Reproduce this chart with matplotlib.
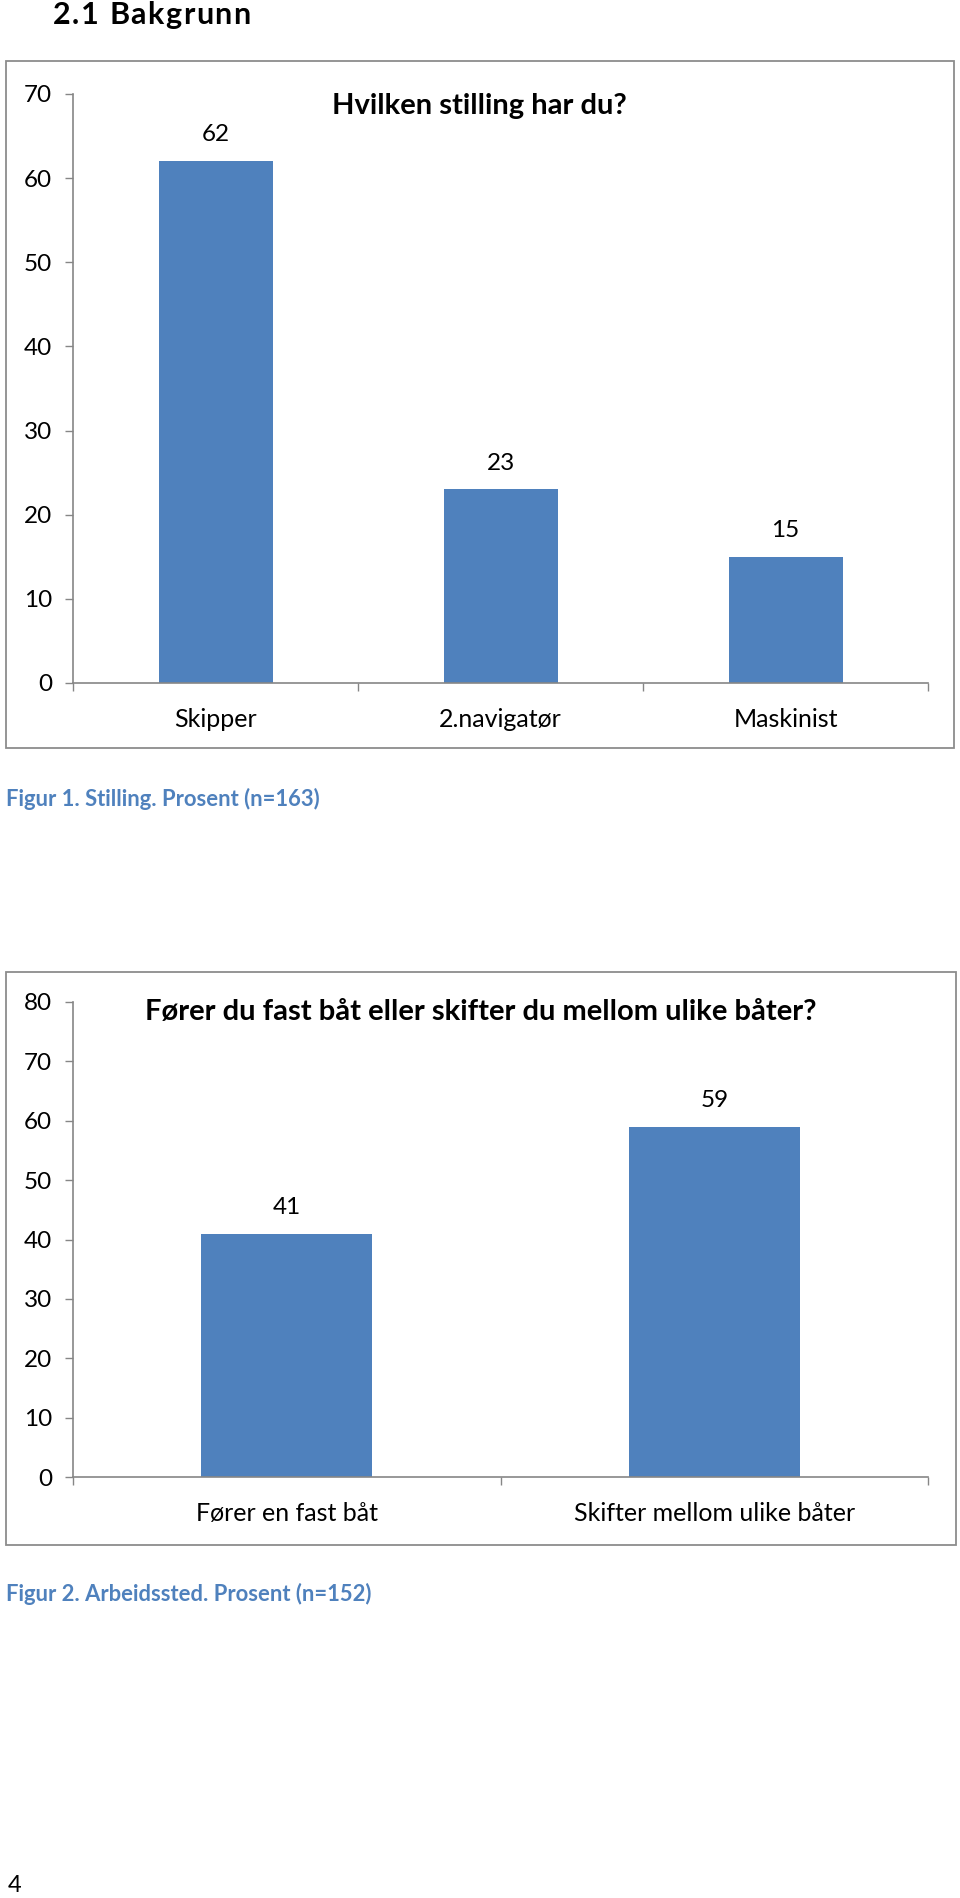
import matplotlib.pyplot as plt
from matplotlib.patches import Rectangle

plt.rcParams['font.family'] = ['Lato', 'DejaVu Sans']

# Figur 1 data
stilling_cats = ['Skipper', '2.navigatør', 'Maskinist']
stilling_vals = [62, 23, 15]
stilling_ticks = [0, 10, 20, 30, 40, 50, 60, 70]

# Figur 2 data
baat_cats = ['Fører en fast båt', 'Skifter mellom ulike båter']
baat_vals = [41, 59]
baat_ticks = [0, 10, 20, 30, 40, 50, 60, 70, 80]

W, H = 960, 1898
BAR = '#4f81bd'
AXC = '#868686'
CAP = '#4f81bd'

fig = plt.figure(figsize=(W / 100, H / 100), dpi=100)
renderer = fig.canvas.get_renderer()


def px_axes(left, top, right, bottom):
    return fig.add_axes([left / W, 1 - bottom / H, (right - left) / W, (bottom - top) / H])


def border(left, top, right, bottom):
    r = Rectangle((left / W, 1 - bottom / H), (right - left) / W, (bottom - top) / H,
                  transform=fig.transFigure, fill=False, ec='#8c8c8c', lw=1.3)
    fig.patches.append(r)


def bar_chart(ax, cats, vals, ticks, labpad):
    n = len(cats)
    x = list(range(n))
    ax.bar(x, vals, width=0.4, color=BAR, zorder=2)
    for xi, v in zip(x, vals):
        ax.annotate(str(v), (xi, v), xytext=(0, 19), textcoords='offset points',
                    ha='center', va='center', fontsize=17.5)
    ax.set_xlim(-0.5, n - 0.5)
    ax.set_ylim(0, ticks[-1])
    ax.set_yticks(ticks)
    ax.set_xticks([i - 0.5 for i in range(n + 1)])
    ax.set_xticklabels([])
    ax.set_xticks(x, minor=True)
    ax.set_xticklabels(cats, minor=True)
    ax.tick_params(axis='x', which='minor', length=0, pad=labpad, labelsize=18)
    ax.tick_params(axis='x', which='major', length=6, color=AXC, width=1)
    ax.tick_params(axis='y', length=6, color=AXC, width=1, pad=9, labelsize=17.5)
    for s in ['top', 'right']:
        ax.spines[s].set_visible(False)
    for s in ['left', 'bottom']:
        ax.spines[s].set_color(AXC)
        ax.spines[s].set_linewidth(1.2)


def spaced_text(x0, ybase, s, spacing, **kw):
    # letter spaced heading, one glyph at a time on a shared baseline
    for i, ch in enumerate(s):
        if ch == ' ':
            continue
        tmp = fig.text(0, 0, s[:i + 1], **kw)
        w = tmp.get_window_extent(renderer).width
        tmp.remove()
        fig.text((x0 + w + i * spacing) / W, 1 - ybase / H, ch, ha='right',
                 va='baseline', **kw)


# heading
spaced_text(53, 24, '2.1 Bakgrunn', 1.5, fontsize=22, fontweight='bold')

# chart 1
border(6, 61, 954, 748)
ax1 = px_axes(73, 94, 928, 683)
bar_chart(ax1, stilling_cats, stilling_vals, stilling_ticks, 18)
fig.text(479 / W, 1 - 106 / H, 'Hvilken stilling har du?', fontsize=21,
         fontweight='bold', ha='center', va='center')
fig.text(6 / W, 1 - 799 / H, 'Figur 1. Stilling. Prosent (n=163)', fontsize=15.8,
         fontweight='bold', color=CAP, ha='left', va='center')

# chart 2
border(6, 972, 956, 1545)
ax2 = px_axes(73, 1002, 928, 1477)
bar_chart(ax2, baat_cats, baat_vals, baat_ticks, 18)
fig.text(481 / W, 1 - 1012 / H, 'Fører du fast båt eller skifter du mellom ulike båter?',
         fontsize=21, fontweight='bold', ha='center', va='center')
fig.text(6 / W, 1 - 1594 / H, 'Figur 2. Arbeidssted. Prosent (n=152)', fontsize=15.8,
         fontweight='bold', color=CAP, ha='left', va='center')

# page number
fig.text(8 / W, 1 - 1886 / H, '4', fontsize=17, ha='left', va='center')

fig.savefig('out.png', dpi=100)
